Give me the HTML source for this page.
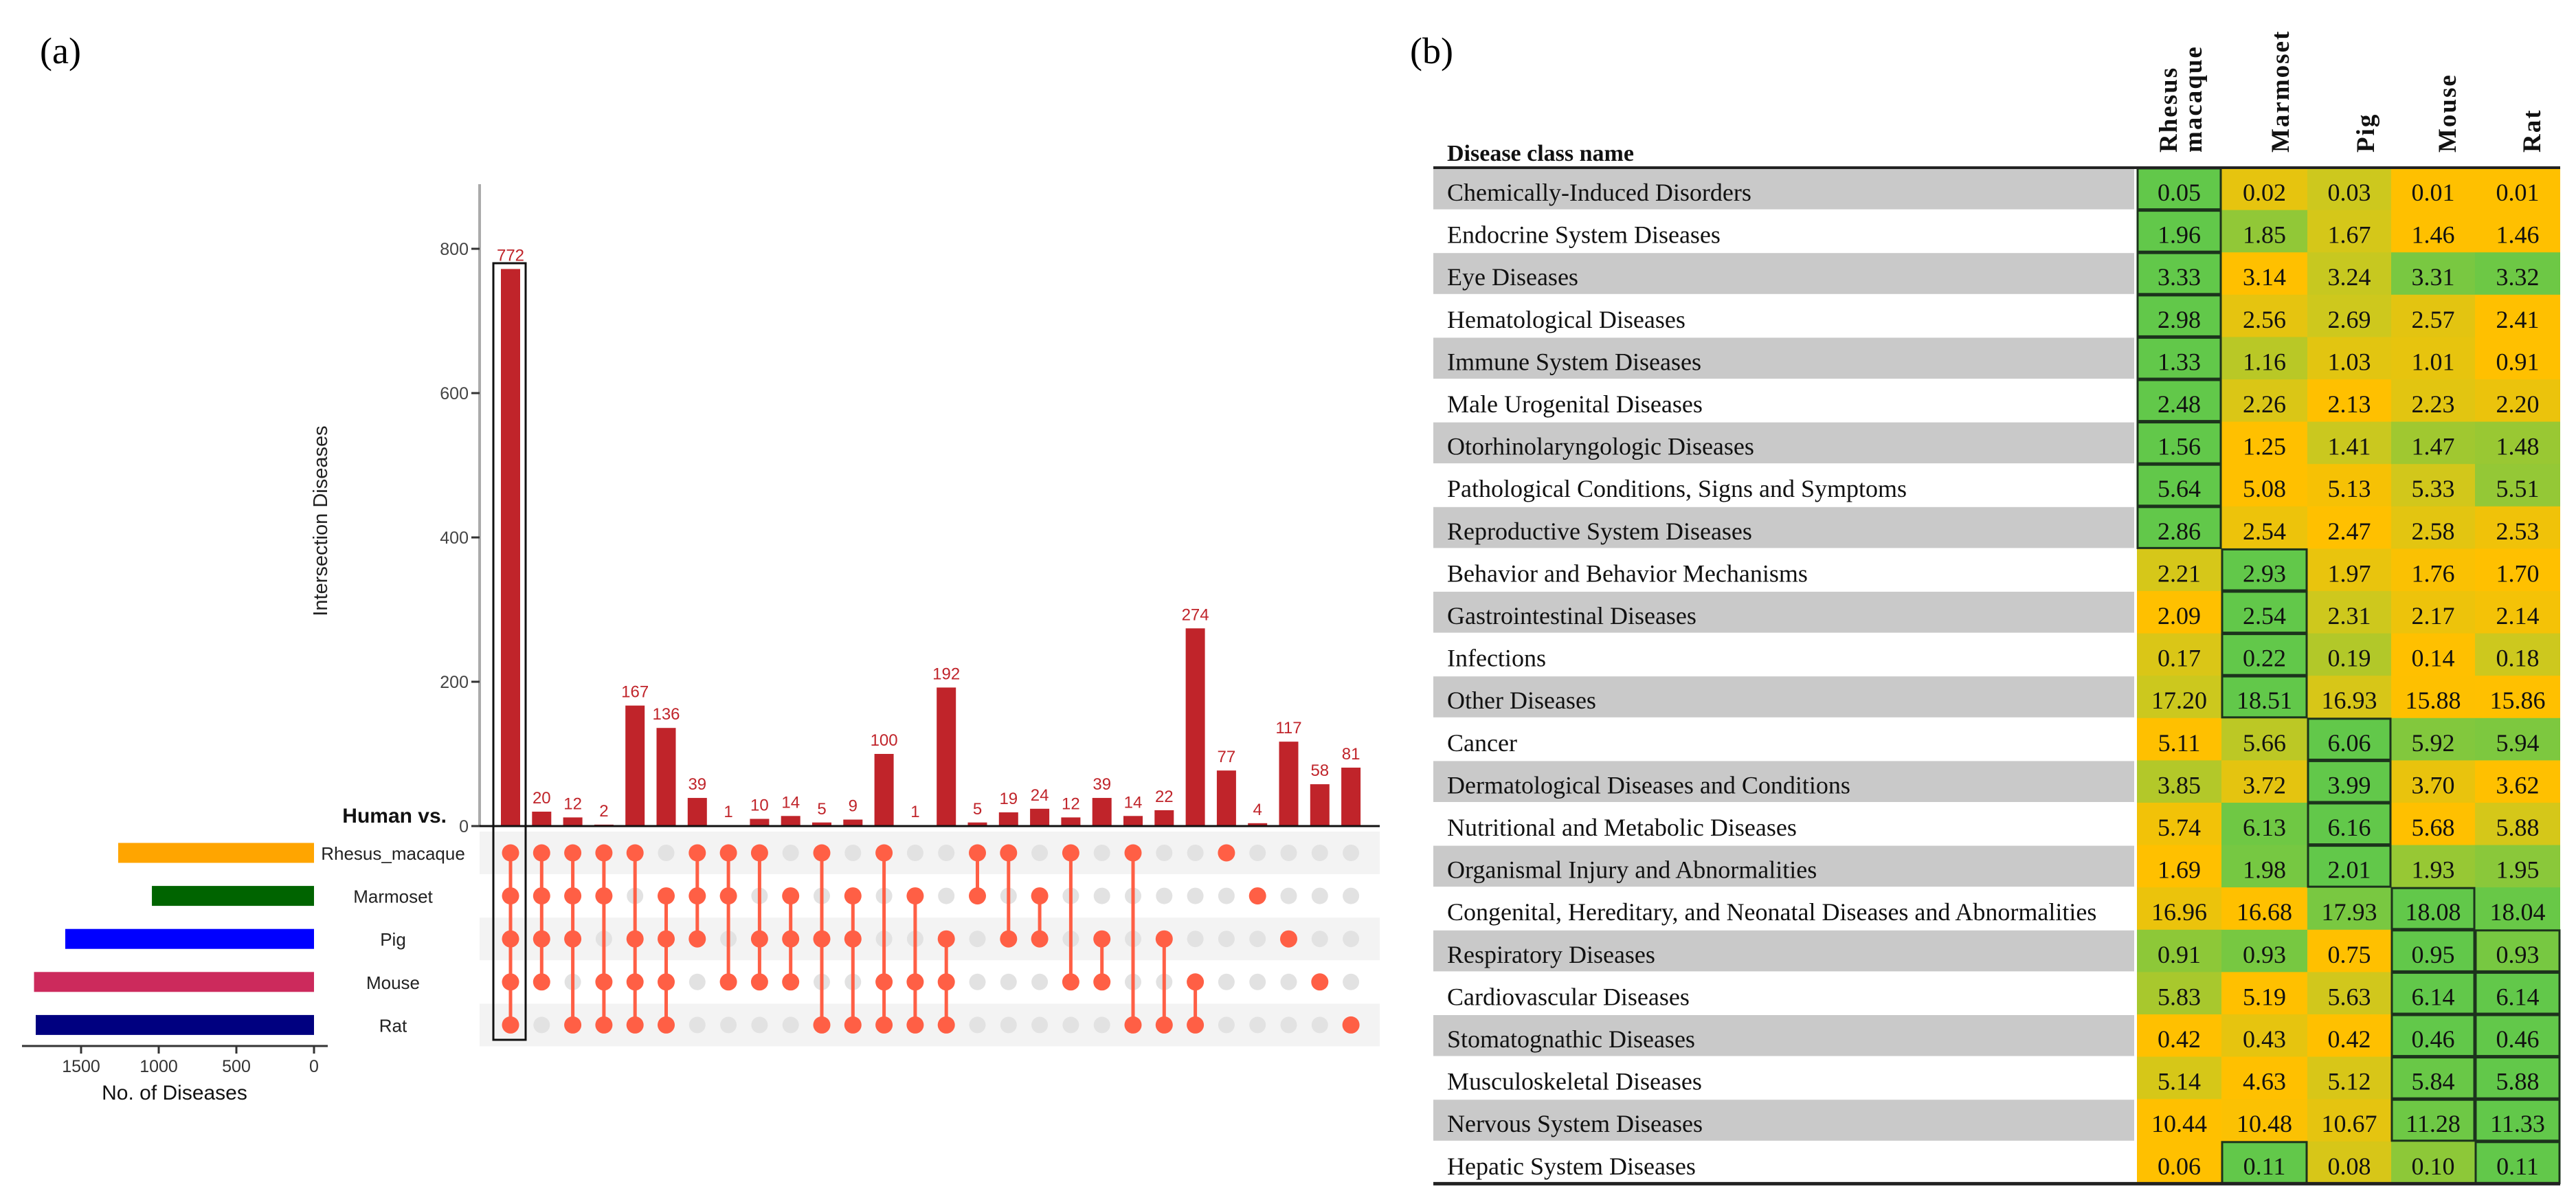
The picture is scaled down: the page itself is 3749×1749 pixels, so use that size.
<!DOCTYPE html>
<html><head><meta charset="utf-8">
<style>
html,body{margin:0;padding:0;background:#fff;}
svg{display:block;}
</style></head>
<body>
<svg id="fig" width="3749" height="1749" viewBox="0 0 3749 1749" xmlns="http://www.w3.org/2000/svg">
<rect x="0" y="0" width="3749" height="1749" fill="#fff"/>
<text x="58" y="92" font-family="Liberation Serif, serif" font-size="54">(a)</text>
<text x="2052" y="92" font-family="Liberation Serif, serif" font-size="54">(b)</text>
<g id="upset"></g>
<g id="table"></g>
</svg>
<script>
// ---------- Panel (a) data ----------
const intersectionCounts = [772,20,12,2,167,136,39,1,10,14,5,9,100,1,192,5,19,24,12,39,14,22,274,77,4,117,58,81];
// membership: indices of sets (0 Rhesus,1 Marmoset,2 Pig,3 Mouse,4 Rat)
const memberships = [[0,1,2,3,4],[0,1,2,3],[0,1,2,4],[0,1,3,4],[0,2,3,4],[1,2,3,4],[0,1,2],[0,1,3],[0,2,3],[1,2,3],[0,2,4],[1,2,4],[0,3,4],[1,3,4],[2,3,4],[0,1],[0,2],[1,2],[0,3],[2,3],[0,4],[2,4],[3,4],[0],[1],[2],[3],[4]];
const setNames = ["Rhesus_macaque","Marmoset","Pig","Mouse","Rat"];
const setSizes = [1261,1044,1602,1803,1792];
const setColors = ["#FFA500","#006400","#0000FF","#CC2A5C","#000080"];
const yTicks = [0,200,400,600,800];
const setTicks = [0,500,1000,1500];

// ---------- Panel (b) data ----------
const diseaseClasses = ["Chemically-Induced Disorders","Endocrine System Diseases","Eye Diseases","Hematological Diseases","Immune System Diseases","Male Urogenital Diseases","Otorhinolaryngologic Diseases","Pathological Conditions, Signs and Symptoms","Reproductive System Diseases","Behavior and Behavior Mechanisms","Gastrointestinal Diseases","Infections","Other Diseases","Cancer","Dermatological Diseases and Conditions","Nutritional and Metabolic Diseases","Organismal Injury and Abnormalities","Congenital, Hereditary, and Neonatal Diseases and Abnormalities","Respiratory Diseases","Cardiovascular Diseases","Stomatognathic Diseases","Musculoskeletal Diseases","Nervous System Diseases","Hepatic System Diseases"];
const speciesCols = ["Rhesus macaque","Marmoset","Pig","Mouse","Rat"];
const rhesusVals = [0.05,1.96,3.33,2.98,1.33,2.48,1.56,5.64,2.86,2.21,2.09,0.17,17.20,5.11,3.85,5.74,1.69,16.96,0.91,5.83,0.42,5.14,10.44,0.06];
const marmosetVals = [0.02,1.85,3.14,2.56,1.16,2.26,1.25,5.08,2.54,2.93,2.54,0.22,18.51,5.66,3.72,6.13,1.98,16.68,0.93,5.19,0.43,4.63,10.48,0.11];
const pigVals = [0.03,1.67,3.24,2.69,1.03,2.13,1.41,5.13,2.47,1.97,2.31,0.19,16.93,6.06,3.99,6.16,2.01,17.93,0.75,5.63,0.42,5.12,10.67,0.08];
const mouseVals = [0.01,1.46,3.31,2.57,1.01,2.23,1.47,5.33,2.58,1.76,2.17,0.14,15.88,5.92,3.70,5.68,1.93,18.08,0.95,6.14,0.46,5.84,11.28,0.10];
const ratVals = [0.01,1.46,3.32,2.41,0.91,2.20,1.48,5.51,2.53,1.70,2.14,0.18,15.86,5.94,3.62,5.88,1.95,18.04,0.93,6.14,0.46,5.88,11.33,0.11];
const boxedCols = [[0],[0],[0],[0],[0],[0],[0],[0],[0],[1],[1],[1],[1],[2],[2],[2],[2],[3],[3,4],[3,4],[3,4],[3,4],[3,4],[1,4]];

const NS = "http://www.w3.org/2000/svg";
function mk(parent, tag, attrs, text) {
  const e = document.createElementNS(NS, tag);
  for (const k in attrs) e.setAttribute(k, attrs[k]);
  if (text !== undefined) e.textContent = text;
  parent.appendChild(e);
  return e;
}
const SANS = "Liberation Sans, Arial, sans-serif";
const SERIF = "Liberation Serif, Times New Roman, serif";

// ---------- Panel (a) ----------
(function(){
  const g = document.getElementById('upset');
  const axisX = 698, baseY = 1202, plotRight = 2008;
  const yScale = v => baseY - v * 1.05;
  const colX = i => 743 + i * 45.3;
  const rowY = j => 1241 + j * 62.6;
  const setX = v => 457 - v * 0.226;

  // matrix stripes
  [0,2,4].forEach(j => {
    const s = mk(g,'rect',{x:axisX,y:rowY(j)-31,width:plotRight-axisX,height:62,fill:'#f3f3f3'});
    
    
  });

  // y axis
  const ax = mk(g,'line',{x1:axisX,y1:268,x2:axisX,y2:baseY,stroke:'#aaaaaa','stroke-width':4});
  
  
  yTicks.forEach(t => {
    const tk = mk(g,'line',{x1:axisX-12,y1:yScale(t),x2:axisX,y2:yScale(t),stroke:'#333','stroke-width':3});
    
    
    const tl = mk(g,'text',{x:axisX-16,y:yScale(t)+9,'text-anchor':'end','font-family':SANS,'font-size':25,fill:'#444'},String(t));
    
    
  });
  const yt = mk(g,'text',{x:0,y:0,transform:'translate(476,758) rotate(-90)','text-anchor':'middle','font-family':SANS,'font-size':29,fill:'#222'},'Intersection Diseases');
  
  

  // bars
  intersectionCounts.forEach((v,i) => {
    const b = mk(g,'rect',{x:colX(i)-14,y:yScale(v),width:28,height:baseY-yScale(v),fill:'#C0242A'});
    
    
    const l = mk(g,'text',{x:colX(i),y:yScale(v)-12,'text-anchor':'middle','font-family':SANS,'font-size':24,fill:'#C0242A'},String(v));
    
    
  });
  const bl = mk(g,'line',{x1:axisX,y1:baseY,x2:plotRight,y2:baseY,stroke:'#111','stroke-width':3});
  
  

  // matrix dots
  memberships.forEach((m,i) => {
    for (let j=0;j<5;j++) {
      if (m.indexOf(j) < 0) {
        const d = mk(g,'circle',{cx:colX(i),cy:rowY(j),r:12,fill:'#e2e2e2'});
        
        
      }
    }
    const lo = Math.min(...m), hi = Math.max(...m);
    if (hi > lo) {
      const ln = mk(g,'line',{x1:colX(i),y1:rowY(lo),x2:colX(i),y2:rowY(hi),stroke:'#FF5F45','stroke-width':5});
      
      
    }
    m.forEach(j => {
      const d = mk(g,'circle',{cx:colX(i),cy:rowY(j),r:12.5,fill:'#FF5F45'});
      
      
    });
  });

  // highlight box
  const hb = mk(g,'rect',{x:718,y:383,width:47,height:1130,fill:'none',stroke:'#111','stroke-width':3});
  
  

  // set labels
  const hv = mk(g,'text',{x:650,y:1197,'text-anchor':'end','font-family':SANS,'font-size':30,'font-weight':'bold',fill:'#111'},'Human vs.');
  
  
  setNames.forEach((n,j) => {
    const t = mk(g,'text',{x:572,y:rowY(j)+10,'text-anchor':'middle','font-family':SANS,'font-size':26,fill:'#222'},n);
    
    
    const b = mk(g,'rect',{x:setX(setSizes[j]),y:rowY(j)-14.5,width:setX(0)-setX(setSizes[j]),height:29,fill:setColors[j]});
    
    
  });
  const sa = mk(g,'line',{x1:32,y1:1522,x2:477,y2:1522,stroke:'#333','stroke-width':3});
  
  
  setTicks.forEach(t => {
    const tk = mk(g,'line',{x1:setX(t),y1:1522,x2:setX(t),y2:1533,stroke:'#333','stroke-width':3});
    
    
    const tl = mk(g,'text',{x:setX(t),y:1560,'text-anchor':'middle','font-family':SANS,'font-size':25,fill:'#333'},String(t));
    
    
  });
  const st = mk(g,'text',{x:254,y:1600,'text-anchor':'middle','font-family':SANS,'font-size':30,fill:'#111'},'No. of Diseases');
  
  
})();

// ---------- Panel (b) ----------
(function(){
  const g = document.getElementById('table');
  const left = 2086, right = 3726, top = 244, rowH = 61.6, grayEnd = 3106;
  const colEdges = [3110,3233,3358,3480,3602,3726];
  const cols = [rhesusVals, marmosetVals, pigVals, mouseVals, ratVals];
  const headerX = [[3168,3204],[3331],[3455],[3574],[3697]];
  const lerp = (a,b,t) => Math.round(a+(b-a)*t);
  function colorFor(t){
    const o=[255,192,0], m=[205,200,30], gr=[98,200,74];
    let c;
    if (t<0.5){ const u=t/0.5; c=[0,1,2].map(k=>lerp(o[k],m[k],u)); }
    else { const u=(t-0.5)/0.5; c=[0,1,2].map(k=>lerp(m[k],gr[k],u)); }
    return 'rgb('+c.join(',')+')';
  }

  const hd = mk(g,'text',{x:2106,y:234,'font-family':SERIF,'font-size':34,'font-weight':'bold',fill:'#111'},'Disease class name');
  
  
  speciesCols.forEach((s,c) => {
    const parts = c===0 ? ['Rhesus','macaque'] : [s];
    parts.forEach((p,k) => {
      const t = mk(g,'text',{x:0,y:0,transform:'translate('+headerX[c][k]+',222) rotate(-90)','font-family':SERIF,'font-size':37,'font-weight':'bold','letter-spacing':2,fill:'#111'},p);
      
      
    });
  });

  diseaseClasses.forEach((name,r) => {
    const y0 = top + r*rowH;
    if (r%2===0) {
      const band = mk(g,'rect',{x:left,y:y0+1,width:grayEnd-left,height:rowH-2,fill:'#c9c9c9'});
      
      
    }
    const lb = mk(g,'text',{x:2106,y:y0+48,'font-family':SERIF,'font-size':36,fill:'#111'},name);
    
    
    const rowV = cols.map(a=>a[r]);
    const mn = Math.min(...rowV), mx = Math.max(...rowV);
    rowV.forEach((v,c) => {
      const t = mx>mn ? (v-mn)/(mx-mn) : 0.5;
      const cell = mk(g,'rect',{x:colEdges[c],y:y0,width:colEdges[c+1]-colEdges[c],height:rowH+0.5,fill:colorFor(t)});
      
      
      const tx = mk(g,'text',{x:(colEdges[c]+colEdges[c+1])/2,y:y0+48,'text-anchor':'middle','font-family':SERIF,'font-size':36,fill:'#111'},v.toFixed(2));
      
      
    });
  });
  diseaseClasses.forEach((name,r) => {
    const y0 = top + r*rowH;
    boxedCols[r].forEach(c => {
      const bx = mk(g,'rect',{x:colEdges[c]+1,y:y0+1,width:colEdges[c+1]-colEdges[c]-2,height:rowH-2,fill:'none',stroke:'#1c331c','stroke-width':3});
      
      
    });
  });
  const hl = mk(g,'line',{x1:left,y1:top,x2:right,y2:top,stroke:'#222','stroke-width':4});
  
  
  const bl = mk(g,'line',{x1:left,y1:top+24*rowH,x2:right,y2:top+24*rowH,stroke:'#222','stroke-width':5});
  
  
})();
</script>
</body></html>
